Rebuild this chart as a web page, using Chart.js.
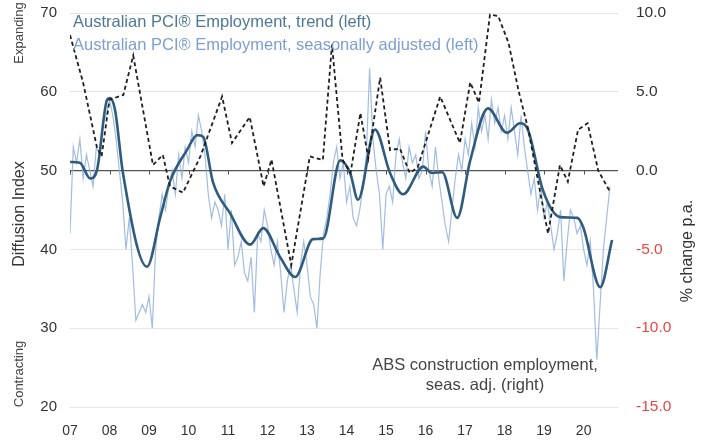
<!DOCTYPE html>
<html>
<head>
<meta charset="utf-8">
<script src="https://cdn.jsdelivr.net/npm/chart.js@4.4.0/dist/chart.umd.min.js"></script>
<style>
html, body { margin: 0; padding: 0; background: #fff; }
</style>
</head>
<body>
<canvas id="grafPCI" width="701" height="441"></canvas>
<script>
/*======== DATOS =============*/
const yearTicks = [2007, 2008, 2009, 2010, 2011, 2012, 2013, 2014, 2015, 2016, 2017, 2018, 2019, 2020];
const yearLabels = ['07', '08', '09', '10', '11', '12', '13', '14', '15', '16', '17', '18', '19', '20'];

// PCI employment, trend (left axis)
const trendDates = [2007.00, 2007.25, 2007.51, 2007.68, 2007.94, 2008.01, 2008.14, 2008.34, 2008.95, 2009.28,
	2009.53, 2009.96, 2010.22, 2010.37, 2010.62, 2011.05, 2011.56, 2011.89, 2012.32, 2012.70,
	2013.15, 2013.41, 2013.84, 2014.09, 2014.29, 2014.72, 2015.10, 2015.43, 2015.94, 2016.16,
	2016.42, 2016.80, 2017.13, 2017.58, 2018.06, 2018.39, 2018.59, 2018.97, 2019.41, 2019.84,
	2019.99, 2020.42, 2020.72];
const trendValues = [51.1, 51.0, 49.0, 50.0, 59.0, 59.2, 57.7, 49.7, 37.8, 44.0,
	48.6, 52.6, 54.5, 54.3, 48.5, 44.6, 40.6, 42.7, 39.0, 36.5,
	41.3, 41.4, 51.3, 49.7, 46.3, 55.2, 49.7, 47.0, 50.5, 49.7,
	49.8, 44.0, 51.3, 57.9, 54.8, 56.0, 55.2, 47.5, 44.1, 44.0,
	42.8, 35.2, 41.2];

// PCI employment, seasonally adjusted, monthly from Jan 2007 (left axis)
const saStart = 2007;
const saValues = [
	42, 53, 51, 54, 49, 52, 50, 48, 53, 52, 56, 57,
	59, 57, 54, 50, 46, 40, 44, 38, 31, 32, 33, 32,
	34, 30, 40, 44, 47, 45, 48, 50, 47, 52, 49, 53,
	51, 55, 53, 57, 55, 52, 47, 44, 46, 45, 43, 47,
	40, 45, 38, 39, 41, 37, 36, 39, 32, 42, 41, 45,
	43, 40, 38, 41, 37, 32, 36, 38, 35, 32, 38, 41,
	38, 34, 33, 30, 37, 42, 44, 47, 51, 53, 49, 51,
	46, 48, 44, 43, 45, 48, 52, 63, 54, 50, 47, 40,
	47, 48, 46, 52, 54, 51, 49, 53, 51, 52, 49, 50,
	55, 50, 48, 53, 49, 46, 43, 41, 45, 49, 52, 50,
	54, 52, 56, 53, 58, 55, 57, 54, 59, 56, 58, 55,
	57, 54, 58, 55, 52, 57, 53, 50, 47, 49, 45, 48,
	44, 46, 43, 40, 42, 45, 36, 41, 45, 44, 42, 43,
	40, 38, 41, 35, 26, 33, 40, 44, 48];

// ABS construction employment, % change p.a. (right axis)
const absDates = [2007.00, 2007.33, 2007.68, 2007.80, 2008.00, 2008.35, 2008.60, 2009.10, 2009.35, 2009.53,
	2009.86, 2010.30, 2010.85, 2011.10, 2011.55, 2011.90, 2012.10, 2012.60, 2013.07, 2013.40,
	2013.63, 2013.90, 2014.10, 2014.35, 2014.55, 2014.85, 2015.10, 2015.35, 2015.60, 2015.80,
	2016.37, 2016.87, 2017.13, 2017.35, 2017.63, 2017.84, 2018.10, 2018.35, 2018.60, 2019.10,
	2019.40, 2019.60, 2019.86, 2020.10, 2020.37, 2020.67];
const absValues = [8.6, 5.6, 1.5, 0.9, 4.5, 4.8, 7.3, 0.35, 1.0, -1.0,
	-1.4, 0.9, 4.7, 1.75, 3.4, -1.0, 0.7, -6.0, 0.9, 0.67,
	8.0, 0.67, -0.15, 3.65, 0.8, 5.9, 1.3, 1.4, -0.15, 0.2,
	4.7, 1.75, 5.6, 4.3, 9.9, 9.8, 8.1, 5.1, 2.6, -4.0,
	0.35, -0.7, 2.6, 3.0, 0.0, -1.35];

/*======== TEXTOS =============*/
const fontBase = '"Liberation Sans", Arial, sans-serif';

const textosExtra = {
	id: 'textosExtra',
	afterDatasetsDraw(chart){
		const ctx = chart.ctx;
		const yL = chart.scales.y;
		const xS = chart.scales.x;
		ctx.save();

		// small year marks on the 50 line
		const y50 = yL.getPixelForValue(50);
		ctx.strokeStyle = '#555';
		ctx.lineWidth = 1;
		yearTicks.forEach(t => {
			const px = Math.round(xS.getPixelForValue(t)) + 0.5;
			ctx.beginPath();
			ctx.moveTo(px, y50);
			ctx.lineTo(px, y50 + 4);
			ctx.stroke();
		});

		ctx.textBaseline = 'middle';
		ctx.textAlign = 'left';
		ctx.font = '16.5px ' + fontBase;
		ctx.fillStyle = '#4f7896';
		ctx.fillText('Australian PCI® Employment, trend (left)', 73, 22);
		ctx.fillStyle = '#7d9ed2';
		ctx.fillText('Australian PCI® Employment, seasonally adjusted (left)', 73, 45);

		ctx.textAlign = 'center';
		ctx.fillStyle = '#444';
		ctx.font = '16.5px ' + fontBase;
		ctx.fillText('ABS construction employment,', 485, 365);
		ctx.fillText('seas. adj. (right)', 485, 385);

		// titulos de ejes
		const rotado = (txt, x, y, size, color) => {
			ctx.save();
			ctx.translate(x, y);
			ctx.rotate(-Math.PI / 2);
			ctx.font = size + 'px ' + fontBase;
			ctx.fillStyle = color;
			ctx.fillText(txt, 0, 0);
			ctx.restore();
		};
		rotado('Diffusion Index', 20, 214, 16, '#333');
		rotado('Expanding', 19, 33, 13, '#444');
		rotado('Contracting', 19, 374, 13, '#444');
		rotado('% change p.a.', 688, 251, 16, '#333');

		ctx.restore();
	}
};

/*======== GRAFICA =============*/
const grafPCI = document.getElementById('grafPCI').getContext('2d');
new Chart(grafPCI, {
	type: 'line',
	data: {
		datasets: [{
			label: 'ABS construction employment, seas. adj. (right)',
			data: absDates.map((d, i) => ({x: d, y: absValues[i]})),
			yAxisID: 'y2',
			borderColor: '#1e1e1e',
			borderWidth: 1.8,
			borderDash: [4, 3],
			tension: 0,
			order: 0
		}, {
			label: 'Australian PCI® Employment, trend (left)',
			data: trendDates.map((d, i) => ({x: d, y: trendValues[i]})),
			yAxisID: 'y',
			borderColor: '#2f5b7c',
			borderWidth: 2.6,
			cubicInterpolationMode: 'monotone',
			order: 1
		}, {
			label: 'Australian PCI® Employment, seasonally adjusted (left)',
			data: saValues.map((v, i) => ({x: saStart + i / 12, y: v})),
			yAxisID: 'y',
			borderColor: 'rgba(140, 172, 218, 0.8)',
			borderWidth: 1.2,
			tension: 0,
			order: 2
		}]
	},
	options: {
		responsive: false,
		animation: false,
		layout: {padding: {top: 13, left: 0, right: 0, bottom: 0}},
		elements: {point: {radius: 0}},
		plugins: {legend: {display: false}, tooltip: {enabled: false}},
		scales: {
			x: {
				type: 'linear',
				min: 2007,
				max: 2020.87,
				grid: {display: false},
				border: {display: false},
				afterBuildTicks: s => { s.ticks = yearTicks.map(v => ({value: v})); },
				afterFit: s => { s.height = 34; s.paddingLeft = 0; s.paddingRight = 0; },
				ticks: {
					callback: v => yearLabels[yearTicks.indexOf(v)],
					autoSkip: false,
					maxRotation: 0,
					padding: 8,
					color: '#333',
					font: {family: fontBase, size: 14}
				}
			},
			y: {
				position: 'left',
				min: 20,
				max: 70,
				afterFit: s => { s.width = 70; s.paddingTop = 0; s.paddingBottom = 0; },
				border: {display: false},
				grid: {
					drawTicks: false,
					color: c => c.tick && c.tick.value === 50 ? '#555' : '#e6e6e6',
					lineWidth: c => c.tick && c.tick.value === 50 ? 1.3 : 1
				},
				ticks: {
					stepSize: 10,
					padding: 13,
					color: '#333',
					font: {family: fontBase, size: 15}
				}
			},
			y2: {
				position: 'right',
				min: -15,
				max: 10,
				afterFit: s => { s.width = 83; s.paddingTop = 0; s.paddingBottom = 0; },
				border: {display: false},
				grid: {display: false, drawTicks: false},
				ticks: {
					stepSize: 5,
					padding: 18,
					callback: v => v.toFixed(1),
					color: c => c.tick && c.tick.value < 0 ? '#f04444' : '#333',
					font: {family: fontBase, size: 15.5}
				}
			}
		}
	},
	plugins: [textosExtra]
});
</script>
</body>
</html>
